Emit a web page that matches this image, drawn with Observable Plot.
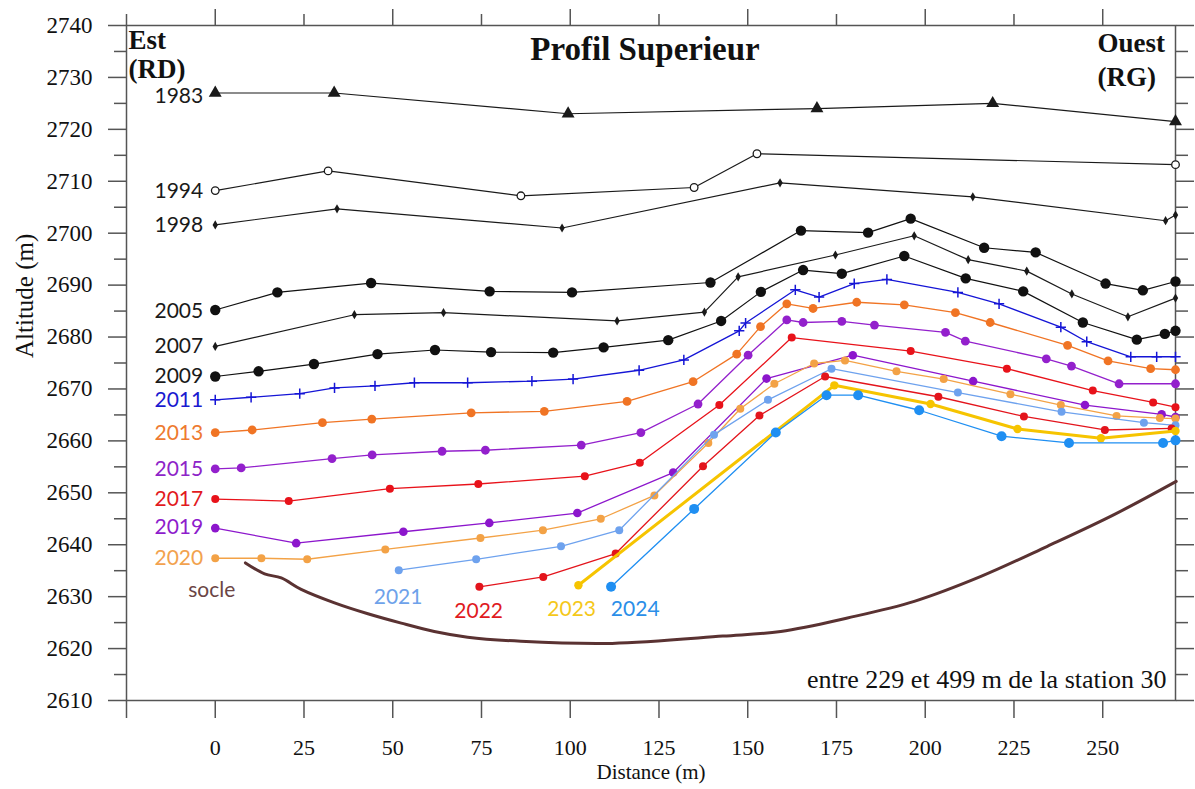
<!DOCTYPE html>
<html><head><meta charset="utf-8">
<script src="https://cdn.jsdelivr.net/npm/d3@7"></script>
<script src="https://cdn.jsdelivr.net/npm/@observablehq/plot@0.6"></script>
<style>
html,body{margin:0;padding:0;background:#fff;}
#chart svg{display:block;}
</style></head><body><div id="chart"></div>
<script>
// ---------- data (distance m, altitude m) ----------
const p1983 = [[0,2727.0],[33.5,2727.0],[99.4,2723.0],[169.5,2724.0],[219.0,2725.0],[270.5,2721.5]];
const p1994 = [[0,2708.2],[31.8,2712.0],[86.1,2707.2],[134.9,2708.8],[152.6,2715.3],[270.5,2713.2]];
const p1998 = [[0,2701.6],[34.3,2704.7],[97.7,2701.0],[159.1,2709.7],[213.4,2707.0],[267.7,2702.4],[270.5,2703.5]];
const p2005 = [[0,2685.2],[17.5,2688.6],[43.9,2690.4],[77.3,2688.8],[100.5,2688.6],[139.5,2690.5],[165.0,2700.5],[183.9,2700.1],[195.9,2702.8],[216.6,2697.2],[231.1,2696.3],[250.8,2690.3],[261.3,2689.0],[270.5,2690.7]];
const p2007 = [[0,2678.2],[39.2,2684.3],[64.3,2684.7],[113.2,2683.1],[137.8,2684.8],[147.3,2691.6],[174.7,2695.8],[196.9,2699.5],[212.1,2694.9],[228.6,2692.7],[241.3,2688.3],[257.1,2683.9],[270.5,2687.5]];
const p2009 = [[0,2672.4],[12.2,2673.4],[27.8,2674.8],[45.7,2676.7],[61.9,2677.5],[77.7,2677.1],[95.2,2677.0],[109.4,2678.0],[127.6,2679.4],[142.5,2683.1],[153.7,2688.7],[165.6,2692.9],[176.5,2692.2],[194.1,2695.6],[211.4,2691.3],[227.6,2688.8],[244.4,2682.8],[259.6,2679.5],[267.5,2680.6],[270.5,2681.2]];
const p2011 = [[0,2667.9],[10.1,2668.4],[23.8,2669.1],[33.6,2670.2],[45.0,2670.6],[56.1,2671.2],[71.1,2671.2],[89.2,2671.5],[100.8,2671.9],[119.4,2673.6],[132.0,2675.6],[147.6,2681.2],[149.4,2682.7],[163.4,2689.1],[170.1,2687.7],[180.0,2690.3],[189.2,2691.1],[209.2,2688.6],[220.8,2686.4],[238.2,2681.9],[245.5,2679.1],[257.9,2676.2],[265.2,2676.2],[270.5,2676.2]];
const p2013 = [[0,2661.6],[10.4,2662.1],[30.2,2663.5],[44.1,2664.2],[72.1,2665.4],[92.7,2665.7],[116.0,2667.6],[134.6,2671.4],[146.9,2676.7],[153.6,2682.0],[161.0,2686.4],[168.4,2685.5],[180.7,2686.7],[194.1,2686.2],[208.5,2684.7],[218.3,2682.8],[240.1,2678.4],[251.5,2675.4],[263.5,2673.9],[270.5,2673.7]];
const p2015 = [[0,2654.6],[7.3,2654.8],[32.9,2656.6],[44.2,2657.3],[63.9,2658.0],[76.1,2658.2],[103.1,2659.2],[119.9,2661.6],[136.0,2667.1],[150.1,2676.5],[161.0,2683.3],[165.6,2682.8],[176.5,2683.0],[185.7,2682.3],[205.7,2680.9],[211.3,2679.2],[234.1,2675.8],[241.2,2674.4],[254.6,2671.0],[270.5,2671.0]];
const p2017 = [[0,2648.8],[20.7,2648.4],[49.2,2650.8],[74.1,2651.7],[104.1,2653.2],[119.6,2655.8],[142.0,2666.9],[162.4,2679.9],[195.9,2677.3],[223.0,2673.9],[247.2,2669.7],[264.2,2667.4],[270.5,2666.5]];
const p2019 = [[0,2643.2],[22.8,2640.3],[53.0,2642.5],[77.2,2644.2],[102.0,2646.1],[129.0,2653.9],[155.3,2672.0],[179.6,2676.5],[213.5,2671.5],[245.0,2666.9],[266.6,2665.1],[270.5,2664.6]];
const p2020 = [[0,2637.4],[13.0,2637.4],[25.9,2637.2],[47.9,2639.1],[74.7,2641.3],[92.3,2642.8],[108.6,2645.0],[123.7,2649.5],[138.9,2659.6],[147.9,2666.2],[157.5,2671.0],[168.7,2674.9],[177.4,2675.5],[191.9,2673.4],[205.2,2671.9],[224.0,2669.0],[238.2,2666.9],[253.9,2664.8],[266.1,2664.4],[270.5,2664.3]];
const p2021 = [[51.7,2635.1],[73.5,2637.2],[97.4,2639.7],[113.8,2642.8],[140.5,2661.2],[155.7,2667.9],[173.6,2673.9],[209.2,2669.3],[238.4,2665.6],[261.6,2663.5],[270.5,2663.0]];
const p2022 = [[74.4,2631.9],[92.4,2633.8],[112.8,2638.3],[137.4,2655.1],[153.3,2664.9],[171.8,2672.4],[203.7,2668.5],[227.8,2664.7],[250.6,2662.1],[269.4,2662.4]];
const p2023 = [[102.3,2632.2],[174.4,2670.7],[201.5,2667.1],[226.0,2662.3],[249.5,2660.5],[270.5,2661.9]];
const p2024 = [[111.5,2631.9],[134.9,2646.9],[157.9,2661.6],[172.2,2668.8],[181.1,2668.8],[198.3,2665.9],[221.5,2660.9],[240.5,2659.6],[267.0,2659.6],[270.5,2660.1]];
const socle = [[8.5,2636.5],[13.9,2634.4],[18.6,2633.6],[24.2,2631.4],[33.6,2628.8],[43.0,2626.7],[52.4,2624.9],[61.7,2623.3],[71.1,2622.2],[86.1,2621.4],[111.8,2621.0],[143.0,2622.4],[159.3,2623.3],[178.1,2625.9],[196.9,2629.1],[215.7,2633.9],[234.4,2639.7],[253.2,2645.8],[270.7,2652.2]];

// tick values
const xTicks = [-25,0,25,50,75,100,125,150,175,200,225,250];
const xTopMajor = [0,50,100,150,200,250];
const xTopMinor = [-25,25,75,125,175,225];
const yTicks = [2610,2620,2630,2640,2650,2660,2670,2680,2690,2700,2710,2720,2730,2740];
const yMinor = [2615,2625,2635,2645,2655,2665,2675,2685,2695,2705,2715,2725,2735];

// year labels: left ones [label, altitude at x=0], lower ones [label, distance, altitude]
const leftLabels = [["1983",2726.3],["1994",2708.0],["1998",2701.5],["2005",2685.0],["2007",2678.2],["2009",2672.4],["2011",2667.8],["2013",2661.5],["2015",2654.6],["2017",2648.8],["2019",2643.4],["2020",2637.3]];
const lowLabels = [["socle",-1.0,2631.3],["2021",51.5,2629.9],["2022",74.2,2627.2],["2023",100.4,2627.5],["2024",118.3,2627.6]];

// ---------- styles ----------
const styleOf = {
  "1983": {pts:p1983, color:"#1a1a1a", symbol:"triangle", r:4.8, w:1.2},
  "1994": {pts:p1994, color:"#1a1a1a", symbol:"circle", r:3.8, w:1.2, open:true},
  "1998": {pts:p1998, color:"#1a1a1a", symbol:"diamond", r:2.8, w:1.2},
  "2005": {pts:p2005, color:"#111111", symbol:"circle", r:5.2, w:1.2},
  "2007": {pts:p2007, color:"#1a1a1a", symbol:"diamond", r:2.8, w:1.2},
  "2009": {pts:p2009, color:"#111111", symbol:"circle", r:5.2, w:1.2},
  "2011": {pts:p2011, color:"#1515d6", symbol:"plus", r:3.4, w:1.3, stroked:true},
  "2013": {pts:p2013, color:"#f07424", symbol:"circle", r:4.4, w:1.3},
  "2015": {pts:p2015, color:"#9320cc", symbol:"circle", r:4.4, w:1.3},
  "2017": {pts:p2017, color:"#e8121a", symbol:"circle", r:4.0, w:1.3},
  "2019": {pts:p2019, color:"#8c16cc", symbol:"circle", r:4.3, w:1.3},
  "2020": {pts:p2020, color:"#f3a246", symbol:"circle", r:4.0, w:1.3},
  "2021": {pts:p2021, color:"#6ea2ee", symbol:"circle", r:4.0, w:1.3},
  "2022": {pts:p2022, color:"#e3141c", symbol:"circle", r:4.0, w:1.3},
  "2023": {pts:p2023, color:"#f6c400", symbol:"circle", r:4.2, w:3.0},
  "2024": {pts:p2024, color:"#1f8ff2", symbol:"circle", r:5.0, w:1.3}
};
const labelColor = {"1983":"#1a1a1a","1994":"#1a1a1a","1998":"#1a1a1a","2005":"#1a1a1a","2007":"#1a1a1a","2009":"#1a1a1a",
  "2011":"#1a1ad0","2013":"#ee7a30","2015":"#8e24c8","2017":"#e21a1e","2019":"#8e1ccc","2020":"#f2a24e",
  "2021":"#6ea2ea","2022":"#e01a1e","2023":"#f5c81a","2024":"#2a8ee8","socle":"#6b4545"};

const X = d => d[0], Y = d => d[1];
const serif = "Liberation Serif";
const sans = "Lato";
const axisC = "#555";
const fmt = d => String(d);

const marks = [];
marks.push(Plot.frame({stroke: axisC, strokeWidth: 1.5}));
// ticks on all four sides (outward)
marks.push(Plot.axisY({ticks: yTicks, anchor: "left", tickSize: 18, stroke: axisC, strokeWidth: 1.5, fill: "none", label: null}));
marks.push(Plot.axisY({ticks: yMinor, anchor: "left", tickSize: 12, stroke: axisC, strokeWidth: 1.5, fill: "none", label: null}));
marks.push(Plot.axisY({ticks: yTicks, anchor: "right", tickSize: 18, stroke: axisC, strokeWidth: 1.5, fill: "none", label: null}));
marks.push(Plot.axisY({ticks: yMinor, anchor: "right", tickSize: 12, stroke: axisC, strokeWidth: 1.5, fill: "none", label: null}));
marks.push(Plot.axisX({ticks: xTicks, anchor: "bottom", tickSize: 18, stroke: axisC, strokeWidth: 1.5, fill: "none", label: null}));
marks.push(Plot.axisX({ticks: xTopMajor, anchor: "top", tickSize: 17, stroke: axisC, strokeWidth: 1.5, fill: "none", label: null}));
marks.push(Plot.axisX({ticks: xTopMinor, anchor: "top", tickSize: 12, stroke: axisC, strokeWidth: 1.5, fill: "none", label: null}));
// tick labels as serif text through the scales
marks.push(Plot.text(yTicks, {x: -25, y: d => d, text: fmt, textAnchor: "end", dx: -34, fontSize: 23, fontFamily: serif, fill: "#111"}));
marks.push(Plot.text(xTicks.filter(d => d >= 0), {x: d => d, y: 2610, text: fmt, dy: 47, fontSize: 22, fontFamily: serif, fill: "#111"}));

// bedrock
marks.push(Plot.line(socle, {x: X, y: Y, stroke: "#5a3232", strokeWidth: 3, curve: "catmull-rom"}));

// profiles
const order = ["1983","1994","1998","2005","2007","2009","2011","2013","2015","2017","2019","2020","2021","2022","2023","2024"];
for (const yr of order) {
  const s = styleOf[yr];
  marks.push(Plot.line(s.pts, {x: X, y: Y, stroke: s.color, strokeWidth: s.w}));
  if (s.open) {
    marks.push(Plot.dot(s.pts, {x: X, y: Y, symbol: s.symbol, r: s.r, fill: "white", stroke: s.color, strokeWidth: 1.3}));
  } else if (s.stroked) {
    marks.push(Plot.dot(s.pts, {x: X, y: Y, symbol: s.symbol, r: s.r, stroke: s.color, strokeWidth: 1.5}));
  } else {
    marks.push(Plot.dot(s.pts, {x: X, y: Y, symbol: s.symbol, r: s.r, fill: s.color, stroke: "none"}));
  }
}

// labels
for (const [t, yv] of leftLabels) {
  marks.push(Plot.text([t], {x: 0, y: yv, text: d => d, textAnchor: "end", dx: -12, fill: labelColor[t], fontSize: 21, fontFamily: sans}));
}
for (const [t, xv, yv] of lowLabels) {
  marks.push(Plot.text([t], {x: xv, y: yv, text: d => d, textAnchor: "middle", fill: labelColor[t], fontSize: 21, fontFamily: sans}));
}

// titles / annotations
marks.push(Plot.text(["Profil Superieur"], {frameAnchor: "top", dx: -6, dy: 24, lineAnchor: "middle", fontSize: 33, fontWeight: "bold", fontFamily: serif, fill: "#111"}));
marks.push(Plot.text(["Est\n(RD)"], {frameAnchor: "top-left", textAnchor: "start", lineAnchor: "top", dx: 2, dy: 3, lineHeight: 1.08, fontSize: 27, fontWeight: "bold", fontFamily: serif, fill: "#111"}));
marks.push(Plot.text(["Ouest\n(RG)"], {frameAnchor: "top-right", textAnchor: "start", lineAnchor: "top", dx: -78, dy: 3, lineHeight: 1.24, fontSize: 27, fontWeight: "bold", fontFamily: serif, fill: "#111"}));
marks.push(Plot.text(["entre 229 et 499 m de la station 30"], {frameAnchor: "bottom-right", textAnchor: "end", lineAnchor: "middle", dx: -9, dy: -21, fontSize: 26, fontFamily: serif, fill: "#111"}));
marks.push(Plot.text(["Altitude (m)"], {frameAnchor: "left", rotate: -90, dx: -102, dy: -5, fontSize: 25, fontFamily: serif, fill: "#111"}));
marks.push(Plot.text(["Distance (m)"], {frameAnchor: "bottom", dy: 78, fontSize: 21, fontFamily: serif, fill: "#111"}));

const chart = Plot.plot({
  width: 1195,
  height: 789,
  marginLeft: 126,
  marginRight: 20,
  marginTop: 25,
  marginBottom: 89,
  x: {domain: [-25, 270.5], label: null},
  y: {domain: [2610, 2740], label: null},
  style: {background: "white", fontFamily: "Liberation Serif, serif", color: "#111"},
  marks
});
document.getElementById("chart").appendChild(chart);
</script>
</body></html>
